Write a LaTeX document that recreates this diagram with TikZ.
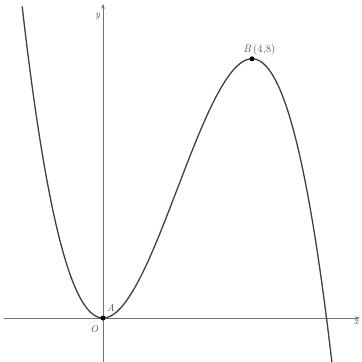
\documentclass[tikz,border=0pt]{standalone}
\usetikzlibrary{arrows.meta}
\begin{document}
\begin{tikzpicture}[x=37.25pt,y=32.4pt,
  axis/.style={draw=black!55,line width=0.8pt,-{Stealth[length=5pt,width=3.5pt]}},
  curve/.style={draw=black!75,line width=1.3pt},
  lbl/.style={text=black!70,font=\fontsize{10}{12}\selectfont\itshape,inner sep=1pt},
  pt/.style={circle,fill=black,inner sep=0pt,minimum size=5pt}]
\useasboundingbox (-2.765,-1.358) rectangle (6.953,9.815);
\coordinate (xs) at (-2.65,0);
\coordinate (xe) at (6.9,0);
\coordinate (ys) at (0,-1.358);
\coordinate (ye) at (0,9.7);
\draw[axis] (xs) -- (xe);
\draw[axis] (ys) -- (ye);
\draw[curve] plot[domain=-2.17:6.145,samples=150,smooth] (\x,{-0.25*\x*\x*\x+1.5*\x*\x});
\node[pt] (A) at (0,0) {};
\node[pt] (B) at (4,8) {};
\node[lbl,anchor=north east] (xl) at (6.9,-0.03) {x};
\node[lbl,anchor=north east] (yl) at (-0.05,9.45) {y};
\node[lbl,anchor=north east] (ol) at (-0.1,-0.2) {O};
\node[lbl,anchor=south west] (al) at (0.08,0.15) {A};
\node[lbl,anchor=base,font=\fontsize{11}{13}\selectfont] (bl) at (4.2,8.2) {\textit{B}\,(4,8)};
\end{tikzpicture}
\end{document}
